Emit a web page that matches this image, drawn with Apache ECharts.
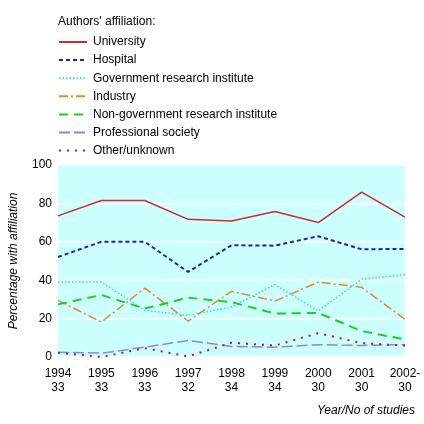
<!DOCTYPE html>
<html><head><meta charset="utf-8">
<script src="https://cdn.jsdelivr.net/npm/echarts@6/dist/echarts.min.js"></script>
<style>html,body{margin:0;padding:0;background:#fff}#c{width:424px;height:424px}</style>
</head><body><div id="c"></div>
<script>
const years = ["1994","1995","1996","1997","1998","1999","2000","2001","2002-"];
const studies = [33,33,33,32,34,34,30,30,30];
const university = [73.5,81.5,81.5,71.7,70.8,75.8,70,85.9,72.8];
const hospital = [52.1,60,60,44.3,58.2,58,62.9,56.1,56.3];
const government = [39,39,24.3,21.7,26,37.7,24,40.5,42.9];
const industry = [29.5,18.2,35.9,18.7,34.2,29.1,39,36.3,19.6];
const nonGovernment = [27.4,32.3,25.2,30.9,28.6,22.6,23,13.5,9.1];
const professional = [2.5,2,5.1,8.6,5.5,5.1,6.4,6,6.4];
const other = [2.2,0,4.6,0.3,7.4,6,12.4,7.2,6];
const yTicks = [0,20,40,60,80,100];

const cats = years.map((y,i)=>y+"\n"+studies[i]);
const font = "Liberation Sans, Arial, sans-serif";
function s(name,data,color,type,width){
  return {name,type:'line',data,symbol:'none',showSymbol:false,
    lineStyle:{color,type,width},itemStyle:{color},
    emphasis:{disabled:true}};
}
const chart = echarts.init(document.getElementById('c'),null,{renderer:'canvas'});
chart.setOption({
  animation:false,
  textStyle:{fontFamily:font},
  title:{text:"Authors' affiliation:",left:58,top:16,padding:0,
    textStyle:{fontSize:12,fontWeight:'normal',color:'#000',fontFamily:font}},
  legend:{orient:'vertical',left:58,top:36,padding:0,itemWidth:28,itemHeight:12,itemGap:6.1,
    itemStyle:{opacity:0},
    textStyle:{fontSize:12,color:'#000',fontFamily:font,padding:[0,0,0,1]}},
  grid:{left:58,right:19,top:165,bottom:67,show:true,backgroundColor:'#ccffff',borderWidth:0},
  graphic:[{type:'text',right:9,top:405,
    style:{text:'Year/No of studies',font:'italic 12px '+font,fill:'#000'}}],
  xAxis:{type:'category',data:cats,boundaryGap:false,
    axisLine:{show:false},axisTick:{show:false},
    axisLabel:{color:'#000',fontSize:12,fontFamily:font,margin:10,lineHeight:14,interval:0}},
  yAxis:{type:'value',min:0,max:100,interval:20,
    axisLine:{show:false},axisTick:{show:false},
    splitLine:{lineStyle:{color:'#fff',width:1.5}},
    axisLabel:{color:'#000',fontSize:12,fontFamily:font,margin:6,
      formatter:v=>yTicks.includes(v)?String(v):''},
    name:'Percentage with affiliation',nameLocation:'middle',nameGap:38,
    nameTextStyle:{fontStyle:'italic',fontSize:12,color:'#000'}},
  series:[
    s('University',university,'#d42a2a','solid',1.5),
    s('Hospital',hospital,'#1a22b0',[4,3],2),
    s('Government research institute',government,'#33ddcc',[1.5,2],1.5),
    s('Industry',industry,'#e08a30',[9,3,2,3],1.5),
    s('Non-government research institute',nonGovernment,'#22cc22',[9,6],2),
    s('Professional society',professional,'#8888dd',[11,4],1.5),
    s('Other/unknown',other,'#b02020',[2,6],2)
  ]
});
</script></body></html>
